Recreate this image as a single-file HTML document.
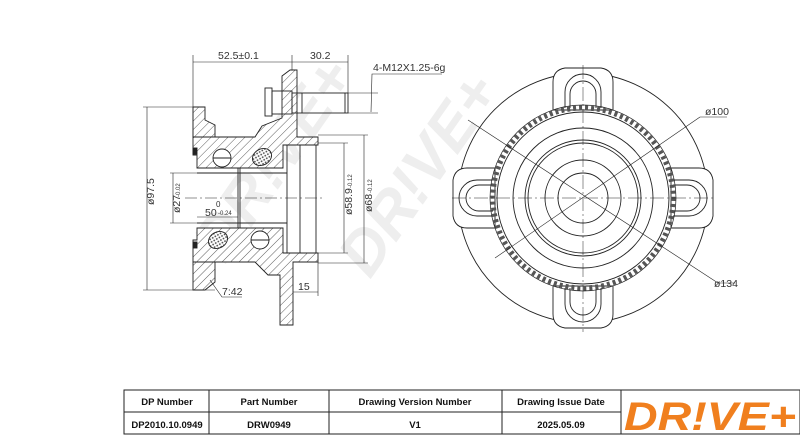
<!DOCTYPE html>
<html><head><meta charset="utf-8"><style>
html,body{margin:0;padding:0;background:#fff;}
svg{display:block;font-family:"Liberation Sans",Arial,sans-serif;}
</style></head><body>
<svg width="800" height="436" viewBox="0 0 800 436" xmlns="http://www.w3.org/2000/svg">
<defs>
<pattern id="h" width="6" height="6" patternUnits="userSpaceOnUse" patternTransform="rotate(45)">
<rect width="6" height="6" fill="#fff"/><line x1="0" y1="0" x2="0" y2="6" stroke="#333" stroke-width="0.8"/></pattern>
<pattern id="x" width="3" height="3" patternUnits="userSpaceOnUse"><rect width="3" height="3" fill="#fff"/><circle cx="1.5" cy="1.5" r="0.9" fill="#444"/></pattern>
</defs>
<g fill="#eeeeee" font-weight="bold" font-style="italic" font-size="62">
<text transform="translate(225,265) rotate(-55)">DR!VE+</text>
<text transform="translate(370,280) rotate(-55)">DR!VE+</text>
</g>
<g stroke="#222" stroke-width="0.9" fill="none">
<polygon fill="url(#h)" points="193,137 255,137 262,126 282,118 282,76 290,70 297,70 297,137 318,137 318,145 283,145 283,168 197,168 197,155 193,155"/>
<polygon fill="url(#h)" points="193,107 205,107 205,120 215,125 215,137 193,137"/>
<polygon fill="url(#h)" points="193,262 255,262 268,275 280,275 280,325 293,325 293,262 318,262 318,253 283,253 283,228 197,228 197,240 193,240"/>
<polygon fill="url(#h)" points="193,262 215,262 215,282 205,290 193,290"/>
<circle cx="222" cy="158" r="9" fill="#fff"/><line x1="213" y1="158" x2="231" y2="158"/>
<ellipse cx="262" cy="157" rx="10" ry="8" fill="url(#x)" transform="rotate(-30 262 157)"/>
<ellipse cx="218" cy="240" rx="10" ry="8" fill="url(#x)" transform="rotate(-30 218 240)"/>
<circle cx="260" cy="240" r="9" fill="#fff"/><line x1="251" y1="240" x2="269" y2="240"/>
<rect x="193" y="148" width="4" height="6" fill="#222"/><rect x="193" y="242" width="4" height="6" fill="#222"/>
<line x1="197" y1="173" x2="287" y2="173"/><line x1="197" y1="223" x2="287" y2="223"/>
<line x1="238" y1="168" x2="238" y2="228"/><line x1="240" y1="168" x2="240" y2="228"/>
<line x1="287" y1="145" x2="287" y2="253"/><line x1="300" y1="145" x2="300" y2="253"/><line x1="316" y1="145" x2="316" y2="253"/>
<rect x="265" y="88" width="7" height="28"/><rect x="272" y="91" width="20" height="23"/>
<rect x="292" y="93" width="56" height="20"/><line x1="302" y1="93" x2="302" y2="113"/><line x1="345" y1="93" x2="345" y2="113"/>
<line x1="193" y1="55" x2="193" y2="137" stroke-width="0.6"/><line x1="292" y1="55" x2="292" y2="70" stroke-width="0.6"/><line x1="348" y1="55" x2="348" y2="93" stroke-width="0.6"/>
<line x1="193" y1="62" x2="348" y2="62" stroke-width="0.6"/>
<polyline points="371,112 372,74 442,74" stroke-width="0.6"/><line x1="348" y1="93" x2="378" y2="93" stroke-width="0.6"/><line x1="348" y1="113" x2="378" y2="113" stroke-width="0.6"/>
<line x1="147" y1="107" x2="147" y2="290" stroke-width="0.6"/><line x1="143" y1="107" x2="205" y2="107" stroke-width="0.6"/><line x1="143" y1="290" x2="215" y2="290" stroke-width="0.6"/>
<line x1="173" y1="173" x2="173" y2="223" stroke-width="0.6"/><line x1="170" y1="173" x2="197" y2="173" stroke-width="0.6"/><line x1="170" y1="223" x2="197" y2="223" stroke-width="0.6"/>
<line x1="197" y1="217" x2="238" y2="217" stroke-width="0.6"/>
<line x1="344" y1="143" x2="344" y2="253" stroke-width="0.6"/><line x1="318" y1="143" x2="348" y2="143" stroke-width="0.6"/><line x1="318" y1="253" x2="348" y2="253" stroke-width="0.6"/>
<line x1="364" y1="135" x2="364" y2="263" stroke-width="0.6"/><line x1="318" y1="135" x2="368" y2="135" stroke-width="0.6"/><line x1="318" y1="263" x2="368" y2="263" stroke-width="0.6"/>
<line x1="293" y1="292" x2="318" y2="292" stroke-width="0.6"/><line x1="318" y1="262" x2="318" y2="296" stroke-width="0.6"/>
<polyline points="210,280 222,297 242,297" stroke-width="0.6"/>
<line x1="185" y1="198" x2="325" y2="198" stroke-width="0.5" stroke-dasharray="12,3,2,3"/>
</g>
<g font-size="10.5" fill="#333">
<text x="218" y="59">52.5±0.1</text><text x="310" y="59">30.2</text>
<text x="373" y="71">4-M12X1.25-6g</text>
<text x="298" y="290">15</text><text x="222" y="295">7:42</text>
<text x="205" y="216">50</text><text x="218" y="215" font-size="6">-0.24</text><text x="216" y="207" font-size="8">0</text>
<text transform="translate(154,205) rotate(-90)">ø97.5</text>
<text transform="translate(180,213) rotate(-90)">ø27</text><text transform="translate(180,197) rotate(-90)" font-size="6">-0.02</text>
<text transform="translate(352,215) rotate(-90)">ø58.9</text><text transform="translate(352,188) rotate(-90)" font-size="6">-0.12</text>
<text transform="translate(372,212) rotate(-90)">ø68</text><text transform="translate(372,193) rotate(-90)" font-size="6">-0.12</text>
</g>
<g stroke="#222" stroke-width="0.9" fill="none">
<circle cx="583" cy="198" r="125"/>
<g id="lug">
<path d="M553,82 Q553,70 565,68 L601,68 Q613,70 613,82 L613,110 L553,110 Z" fill="#fff"/>
<path d="M565,108 L565,92 A18,18 0 0 1 601,92 L601,108"/>
<path d="M570,108 L570,94 A13,13 0 0 1 596,94 L596,108"/>
</g>
<use href="#lug" transform="rotate(90 583 198)"/>
<use href="#lug" transform="rotate(180 583 198)"/>
<use href="#lug" transform="rotate(270 583 198)"/>
<circle cx="583" cy="198" r="90" stroke-width="5" stroke-dasharray="3,3" stroke="#555"/>
<circle cx="583" cy="198" r="93" stroke-width="0.7"/>
<circle cx="583" cy="198" r="86"/>
<circle cx="583" cy="198" r="70"/><circle cx="583" cy="198" r="58"/><circle cx="583" cy="198" r="55"/>
<circle cx="583" cy="198" r="38"/><circle cx="583" cy="198" r="25"/>
<line x1="583" y1="65" x2="583" y2="332" stroke-width="0.5" stroke-dasharray="14,3,2,3"/>
<line x1="452" y1="198" x2="715" y2="198" stroke-width="0.5" stroke-dasharray="14,3,2,3"/>
<line x1="468" y1="120" x2="718" y2="283" stroke-width="0.6"/><line x1="718" y1="283" x2="735" y2="283" stroke-width="0.6"/>
<line x1="495" y1="258" x2="700" y2="117" stroke-width="0.6"/><line x1="700" y1="117" x2="727" y2="117" stroke-width="0.6"/>
</g>
<text x="705" y="115" font-size="10.5" fill="#333">ø100</text>
<text x="714" y="287" font-size="10.5" fill="#333">ø134</text>
<g stroke="#222" stroke-width="1" fill="none">
<rect x="124" y="390" width="676" height="44"/>
<line x1="124" y1="412" x2="621" y2="412"/>
<line x1="209" y1="390" x2="209" y2="434"/><line x1="329" y1="390" x2="329" y2="434"/>
<line x1="502" y1="390" x2="502" y2="434"/><line x1="621" y1="390" x2="621" y2="434"/>
</g>
<g font-size="9.5" font-weight="bold" fill="#111" text-anchor="middle">
<text x="167" y="405">DP Number</text><text x="269" y="405">Part Number</text>
<text x="415" y="405">Drawing Version Number</text><text x="561" y="405">Drawing Issue Date</text>
<text x="167" y="428">DP2010.10.0949</text><text x="269" y="428">DRW0949</text>
<text x="415" y="428">V1</text><text x="561" y="428">2025.05.09</text>
</g>
<text x="710" y="430" text-anchor="middle" font-size="40" font-weight="bold" font-style="italic" fill="#f07f1e" textLength="172" lengthAdjust="spacingAndGlyphs">DR!VE+</text>
</svg>
</body></html>
